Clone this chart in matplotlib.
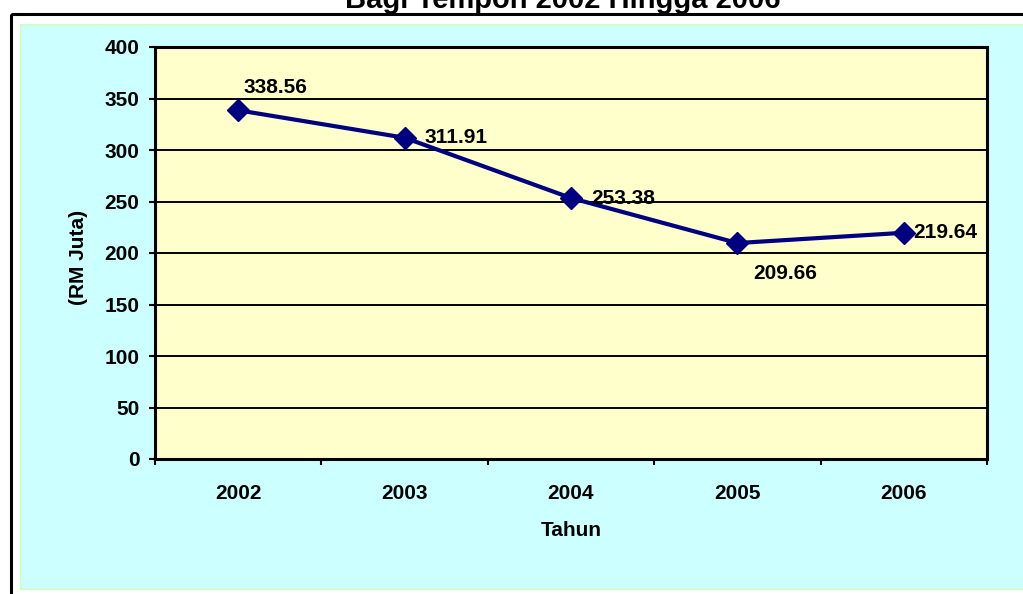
"""
plot.py
-------
Line chart of yearly value (RM Juta) for 2002-2006, drawn in the style of
an old spreadsheet chart: cyan chart area, cream plot area, black gridlines.
"""

import matplotlib
matplotlib.use("Agg")

import matplotlib.pyplot as plt
from matplotlib.patches import Rectangle


# --------------------------------------------------------------------------- #
# Data
# --------------------------------------------------------------------------- #
years = ["2002", "2003", "2004", "2005", "2006"]
values = [338.56, 311.91, 253.38, 209.66, 219.64]
value_labels = ["338.56", "311.91", "253.38", "209.66", "219.64"]

title_text = "Bagi Tempoh 2002 Hingga 2006"
x_title = "Tahun"
y_title = "(RM Juta)"

# label offsets (points) from each marker, as placed in the original
label_offsets = [(3.6, 16.5), (14.4, 0.0), (14.4, 0.0), (11.5, -21.6), (6.5, 0.0)]

# --------------------------------------------------------------------------- #
# Colours
# --------------------------------------------------------------------------- #
CHART_AREA = "#ccffff"
CHART_EDGE = "#ccffcc"
PLOT_AREA = "#ffffcc"
LINE_COLOR = "#000080"

W, H, DPI = 1023, 594, 100

plt.rcParams["font.family"] = ["Liberation Sans", "DejaVu Sans"]
plt.rcParams["font.weight"] = "bold"


def draw_backdrop(fig):
    """Outer black frame and cyan chart area, in pixel coordinates."""
    bg = fig.add_axes([0, 0, 1, 1])
    bg.set_xlim(0, W)
    bg.set_ylim(H, 0)
    bg.set_axis_off()
    bg.add_patch(Rectangle((10.5, 13.5), 1200, 800, fill=False,
                           edgecolor="black", linewidth=2.2))
    bg.add_patch(Rectangle((21, 25), 1200, 564, facecolor=CHART_AREA,
                           edgecolor=CHART_EDGE, linewidth=1.5))
    return bg


fig = plt.figure(figsize=(W / DPI, H / DPI), dpi=DPI, facecolor="white")
draw_backdrop(fig)

fig.text(563 / W, (H - 8) / H, title_text, ha="center", va="baseline",
         fontsize=21, fontweight="bold")

# plot area: x 155..987, y 47..459 px
ax = fig.add_axes([155 / W, 1 - 459 / H, (987 - 155) / W, (459 - 47) / H])
ax.set_facecolor(PLOT_AREA)

x = list(range(len(years)))
ax.plot(x, values, color=LINE_COLOR, linewidth=3, marker="D",
        markersize=11.5, markerfacecolor=LINE_COLOR, markeredgecolor=LINE_COLOR,
        zorder=3)

for xi, v, txt, off in zip(x, values, value_labels, label_offsets):
    ax.annotate(txt, (xi, v), xytext=off, textcoords="offset points",
                ha="left", va="center", fontsize=15, fontweight="bold",
                color="black", zorder=4)

ax.set_xlim(-0.5, len(years) - 0.5)
ax.set_ylim(0, 400)
ax.set_yticks(range(0, 401, 50))
ax.set_xticks(x)
ax.set_xticklabels(years)
ax.set_xticks([i - 0.5 for i in range(len(years) + 1)], minor=True)

ax.tick_params(axis="x", which="major", length=0, pad=18, labelsize=15)
ax.tick_params(axis="x", which="minor", length=4.3, width=1.5, direction="out")
ax.tick_params(axis="y", which="major", length=4.3, width=1.5, direction="out",
               pad=7, labelsize=15)
for lab in ax.get_xticklabels() + ax.get_yticklabels():
    lab.set_fontweight("bold")

ax.yaxis.grid(True, color="black", linewidth=1.4)
ax.set_axisbelow(True)
for sp in ax.spines.values():
    sp.set_color("black")
    sp.set_linewidth(2.2)

ax.set_xlabel(x_title, fontsize=15, fontweight="bold")
ax.set_ylabel(y_title, fontsize=15, fontweight="bold")
ax.xaxis.set_label_coords(0.5, -71 / 412)
ax.yaxis.set_label_coords(-77 / 832, 0.49)
ax.xaxis.label.set_va("center")
ax.yaxis.label.set_va("center")
ax.yaxis.label.set_ha("center")

fig.savefig("out.png", dpi=DPI, facecolor="white")
